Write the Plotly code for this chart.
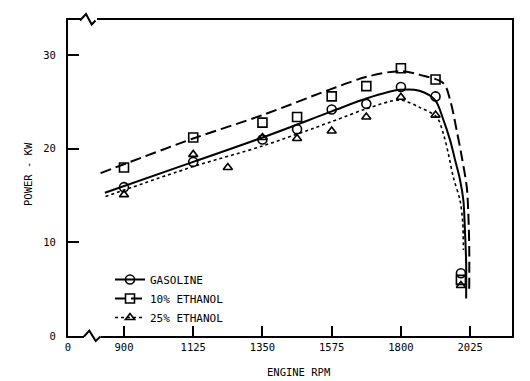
import plotly.graph_objects as go

# ---- measured data points (engine rpm, power kW) ----
rpm_pts = [900, 1125, 1350, 1462.5, 1575, 1687.5, 1800, 1912.5, 1995]
gasoline_pts = [15.9, 18.6, 21.0, 22.1, 24.2, 24.8, 26.6, 25.6, 6.7]
eth10_pts = [18.0, 21.2, 22.8, 23.4, 25.6, 26.7, 28.6, 27.4, 6.0]

rpm_pts25 = [900, 1125, 1237.5, 1350, 1462.5, 1575, 1687.5, 1800, 1912.5, 1995]
eth25_pts = [15.1, 19.4, 18.0, 21.2, 21.1, 21.9, 23.4, 25.5, 23.6, 5.4]

# ---- fitted curves ----
gas_curve_x = [838, 1125, 1350, 1575, 1690, 1797, 1860, 1911, 1938, 1960, 1976, 1992, 2003, 2008, 2012, 2012]
gas_curve_y = [15.3, 18.6, 21.2, 24.0, 25.4, 26.3, 26.2, 25.2, 23.1, 20.9, 18.8, 16.7, 14.5, 11.3, 7.8, 4.0]

e10_curve_x = [824, 1125, 1350, 1575, 1690, 1797, 1862, 1938, 1960, 1981, 1998, 2014, 2019, 2022, 2022]
e10_curve_y = [17.4, 21.1, 23.6, 26.4, 27.7, 28.3, 27.9, 27.0, 25.2, 22.0, 19.1, 15.9, 13.1, 9.5, 5.0]

e25_curve_x = [840, 1125, 1350, 1575, 1690, 1797, 1862, 1916, 1938, 1954, 1970, 1992, 2001, 2003]
e25_curve_y = [14.9, 18.1, 20.3, 22.9, 24.3, 25.2, 24.4, 23.4, 21.6, 19.5, 17.0, 14.5, 12.1, 9.2]

x_tickvals = [718, 900, 1125, 1350, 1575, 1800, 2025]
x_ticktext = ["0", "900", "1125", "1350", "1575", "1800", "2025"]
y_tickvals = [0, 10, 20, 30]

series_names = ["GASOLINE", "10% ETHANOL", "25% ETHANOL"]

FONT = "DejaVu Sans Mono"
W, H = 530, 381
ML, MR, MT, MB = 68, 18, 20, 45
PW, PH = W - ML - MR, H - MT - MB


def px(x):
    return (x - ML) / PW


def py(y):
    return (H - MB - y) / PH


fig = go.Figure()

curve_specs = [
    (gas_curve_x, gas_curve_y, dict(color="black", width=2, dash="solid")),
    (e10_curve_x, e10_curve_y, dict(color="black", width=2, dash="11px,5px")),
    (e25_curve_x, e25_curve_y, dict(color="black", width=1.6, dash="dot")),
]
for cx, cy, ln in curve_specs:
    fig.add_trace(go.Scatter(x=cx, y=cy, mode="lines", line=dict(shape="spline", smoothing=0.9, **ln),
                             showlegend=False, hoverinfo="skip"))

marker_specs = [
    (rpm_pts, gasoline_pts, dict(symbol="circle-open", size=9, color="black", line=dict(width=1.6, color="black"))),
    (rpm_pts, eth10_pts, dict(symbol="square-open", size=9, color="black", line=dict(width=1.6, color="black"))),
    (rpm_pts25, eth25_pts, dict(symbol="triangle-up-open", size=8, color="black", line=dict(width=1.6, color="black"))),
]
for mx, my, mk in marker_specs:
    fig.add_trace(go.Scatter(x=mx, y=my, mode="markers", marker=mk, showlegend=False))

# legend-only entries
for name, (_, _, ln), (_, _, mk) in zip(series_names, curve_specs, marker_specs):
    fig.add_trace(go.Scatter(x=[None], y=[None], mode="lines+markers", name=name,
                             line=ln, marker=mk, showlegend=True))

# axis break zigzags
shapes = []
shapes.append(dict(type="line", xref="paper", yref="paper", x0=px(81), x1=px(97), y0=py(20), y1=py(20),
                   line=dict(color="white", width=5)))
shapes.append(dict(type="path", xref="paper", yref="paper",
                   path=f"M {px(80)},{py(20.5)} L {px(86)},{py(14)} L {px(91.7)},{py(24.5)} L {px(95.5)},{py(20.5)}",
                   line=dict(color="black", width=2)))
shapes.append(dict(type="line", xref="paper", yref="paper", x0=px(84), x1=px(101), y0=py(336.5), y1=py(336.5),
                   line=dict(color="white", width=5)))
shapes.append(dict(type="path", xref="paper", yref="paper",
                   path=f"M {px(84)},{py(336.5)} L {px(89.3)},{py(330.7)} L {px(95.7)},{py(341)} L {px(100.5)},{py(336.5)}",
                   line=dict(color="black", width=2)))

fig.update_layout(
    width=W, height=H,
    margin=dict(l=ML, r=MR, t=MT, b=MB),
    paper_bgcolor="white", plot_bgcolor="white",
    font=dict(family=FONT, size=11, color="black"),
    shapes=shapes,
    legend=dict(x=px(110), y=py(265), xanchor="left", yanchor="top",
                bgcolor="rgba(0,0,0,0)", font=dict(family=FONT, size=11), tracegroupgap=0),
    annotations=[
        dict(text="ENGINE RPM", xref="paper", yref="paper", x=px(298), y=py(372), showarrow=False,
             font=dict(family=FONT, size=10.5), xanchor="center", yanchor="middle"),
        dict(text="POWER - KW", xref="paper", yref="paper", x=px(28), y=py(174), showarrow=False,
             textangle=-90, font=dict(family=FONT, size=10.5), xanchor="center", yanchor="middle"),
    ],
)

fig.update_xaxes(range=[718, 2161], tickvals=x_tickvals, ticktext=x_ticktext,
                 ticks="inside", ticklen=10, tickwidth=2, tickcolor="black",
                 showline=True, linewidth=2, linecolor="black", mirror=True,
                 showgrid=False, zeroline=False, tickfont=dict(family=FONT, size=10.5),
                 ticklabelstandoff=0)
fig.update_yaxes(range=[0, 33.76], tickvals=y_tickvals,
                 ticks="inside", ticklen=11, tickwidth=2, tickcolor="black",
                 showline=True, linewidth=2, linecolor="black", mirror=True,
                 showgrid=False, zeroline=False, tickfont=dict(family=FONT, size=10.5),
                 ticklabelstandoff=8)

fig.write_html("out.html", config={"displayModeBar": False},
               post_script="document.body.style.margin='0';document.body.style.overflow='hidden';")
